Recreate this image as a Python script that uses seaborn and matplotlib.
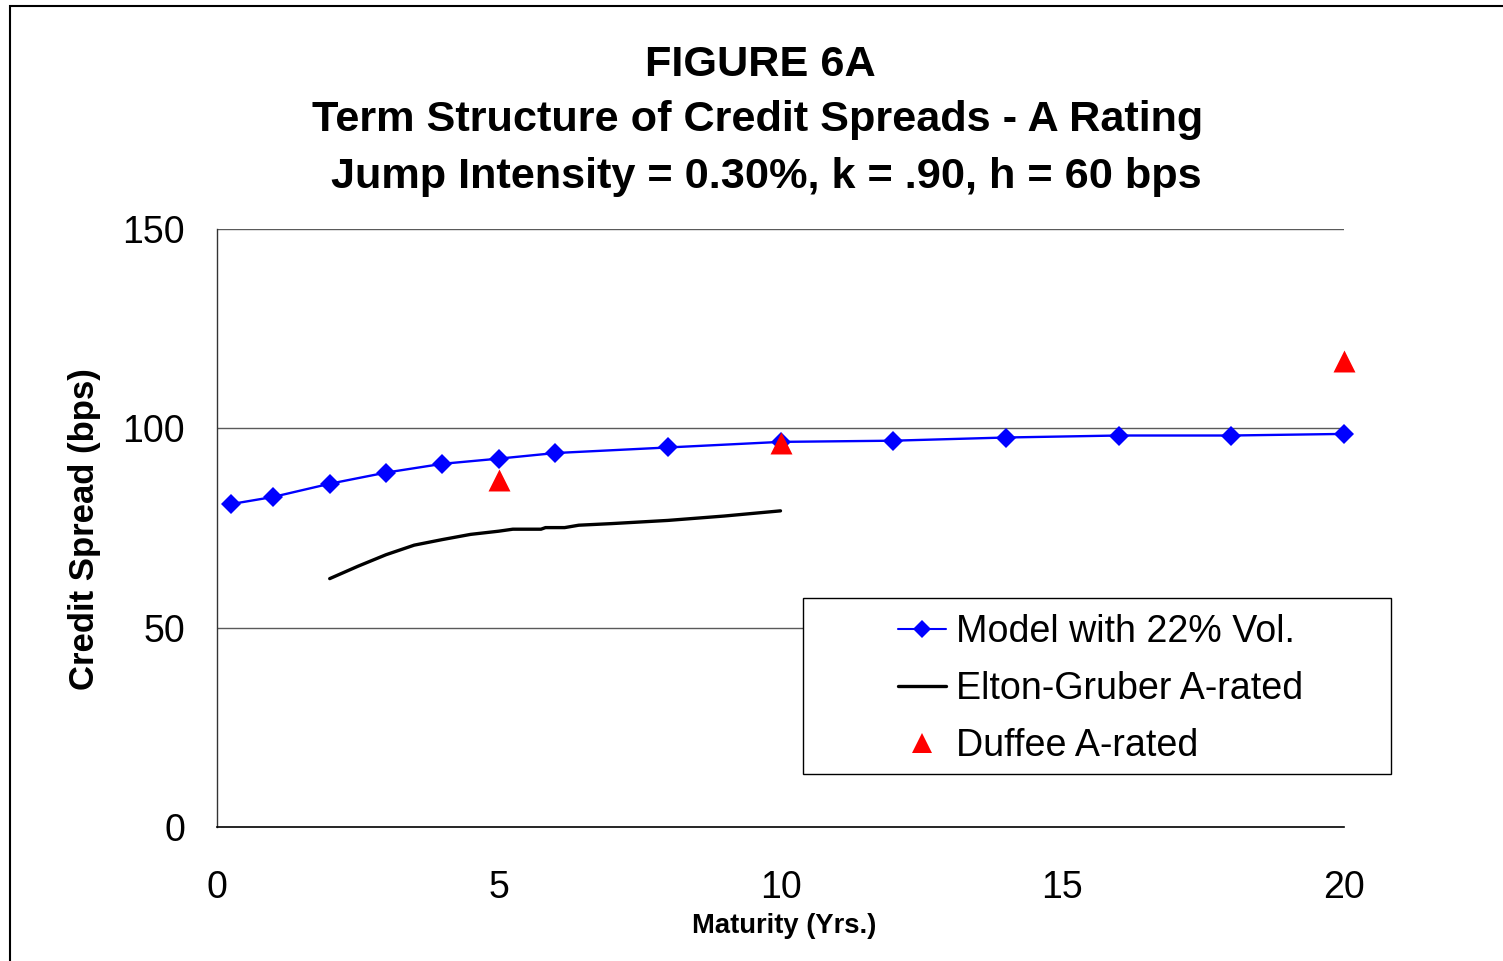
import matplotlib
matplotlib.use('Agg')
import matplotlib.pyplot as plt
from matplotlib.lines import Line2D
from matplotlib.patches import Rectangle
from matplotlib import font_manager
import seaborn as sns

# ---- data ----
model_maturity = [0.25, 1, 2, 3, 4, 5, 6, 8, 10, 12, 14, 16, 18, 20]
model_spread = [81.0, 82.8, 86.1, 88.9, 91.1, 92.4, 93.8, 95.2, 96.6, 96.9, 97.7, 98.2, 98.2, 98.6]

eg_maturity = [2, 2.5, 3, 3.5, 4, 4.5, 5, 5.25, 5.75, 5.83, 6.17, 6.42, 7, 8, 9, 10]
eg_spread = [62.3, 65.4, 68.3, 70.7, 72.1, 73.4, 74.2, 74.7, 74.7, 75.1, 75.1, 75.7, 76.1, 76.9, 78.0, 79.3]

duffee_maturity = [5, 10, 20]
duffee_spread = [87.0, 96.2, 116.9]

x_ticks = [0, 5, 10, 15, 20]
y_ticks = [0, 50, 100, 150]

title_lines = ["FIGURE 6A",
               "Term Structure of Credit Spreads - A Rating",
               "Jump Intensity = 0.30%, k = .90, h = 60 bps"]
legend_labels = ["Model with 22% Vol.", "Elton-Gruber A-rated", "Duffee A-rated"]

sns.set_theme(style="white")
plt.rcParams['font.family'] = ['Liberation Sans', 'DejaVu Sans']
plt.rcParams['text.color'] = 'black'

available = {f.name for f in font_manager.fontManager.ttflist}
NARROW = 'Liberation Sans Narrow' if 'Liberation Sans Narrow' in available else None
if NARROW:
    narrow_fam = [NARROW, 'Liberation Sans', 'DejaVu Sans']
    nscale = 1.0
else:
    narrow_fam = ['Liberation Sans', 'DejaVu Sans']
    nscale = 0.82

W, H = 1503, 961
fig = plt.figure(figsize=(W / 100, H / 100), dpi=100)
fig.patch.set_facecolor('white')
ax = fig.add_axes([217 / W, 1 - 827 / H, (1344 - 217) / W, (827 - 229) / H])

sns.lineplot(x=model_maturity, y=model_spread, ax=ax, color='#0000FF', linewidth=1.7,
             marker='D', markersize=10, markeredgewidth=0, sort=False, estimator=None,
             zorder=3, clip_on=False)
sns.lineplot(x=eg_maturity, y=eg_spread, ax=ax, color='black', linewidth=2.4,
             sort=False, estimator=None, zorder=3)
sns.scatterplot(x=duffee_maturity, y=duffee_spread, ax=ax, color='#FF0000', marker='^',
                s=250, linewidth=0, zorder=4, clip_on=False)

ax.set_xlim(0, 20)
ax.set_ylim(0, 150)
ax.set_xticks(x_ticks)
ax.set_yticks(y_ticks)
ax.set_xticklabels([str(t) for t in x_ticks], fontsize=27)
ax.set_yticklabels([str(t) for t in y_ticks], fontsize=27)
ax.tick_params(axis='both', which='both', direction='out', length=9, width=1,
               color='#333333', labelcolor='black')
ax.tick_params(axis='x', pad=22)
ax.tick_params(axis='y', pad=14)

for yv in [50, 100, 150]:
    ax.axhline(yv, color='#5a5a5a', linewidth=1.0, zorder=1)

for s in ['top', 'right']:
    ax.spines[s].set_visible(False)
ax.spines['left'].set_color('#333333')
ax.spines['left'].set_linewidth(1.0)
ax.spines['bottom'].set_color('black')
ax.spines['bottom'].set_linewidth(1.2)
ax.grid(False)
ax.set_xlabel("")
ax.set_ylabel("")

fig.text(784 / W, 1 - 926 / H, "Maturity (Yrs.)", ha='center', va='center',
         fontsize=24 * nscale, fontweight='bold', family=narrow_fam, color='black')
fig.text(85 / W, 1 - 529 / H, "Credit Spread (bps)", ha='center', va='center',
         rotation=90, fontsize=25, fontweight='bold', color='black')

title_y = [65, 120, 177]
title_x = [760, 758, 766]
for t, yy, xx in zip(title_lines, title_y, title_x):
    fig.text(xx / W, 1 - yy / H, t, ha='center', va='center', fontsize=38 * nscale,
             fontweight='bold', family=narrow_fam, color='black')

leg_fs = 33 * nscale
fs_px = leg_fs * 100 / 72
handles = [
    Line2D([], [], color='#0000FF', linewidth=1.5, marker='D', markersize=9,
           markeredgewidth=0),
    Line2D([], [], color='black', linewidth=2.4),
    Line2D([], [], color='#FF0000', linestyle='none', marker='^', markersize=15,
           markeredgewidth=0),
]
leg = ax.legend(handles, legend_labels, loc='upper left',
                bbox_to_anchor=(898 / W, 1 - 614 / H), bbox_transform=fig.transFigure,
                prop={'family': narrow_fam, 'size': leg_fs},
                frameon=False, borderpad=0, labelspacing=0.56,
                handlelength=48 / fs_px, handletextpad=10 / fs_px, borderaxespad=0)
for txt in leg.get_texts():
    txt.set_color('black')
leg.set_zorder(6)

ax.add_patch(Rectangle((803 / W, 1 - 774 / H), (1391 - 803) / W, (774 - 598) / H,
                       transform=fig.transFigure, facecolor='white', edgecolor='black',
                       linewidth=1.0, zorder=5, clip_on=False))

fig.patches.append(Rectangle((10 / W, -0.1), 1.0, 1 - 6 / H + 0.1,
                             transform=fig.transFigure, fill=False,
                             edgecolor='black', linewidth=1.5))

fig.savefig('out.png', dpi=100, facecolor='white')
